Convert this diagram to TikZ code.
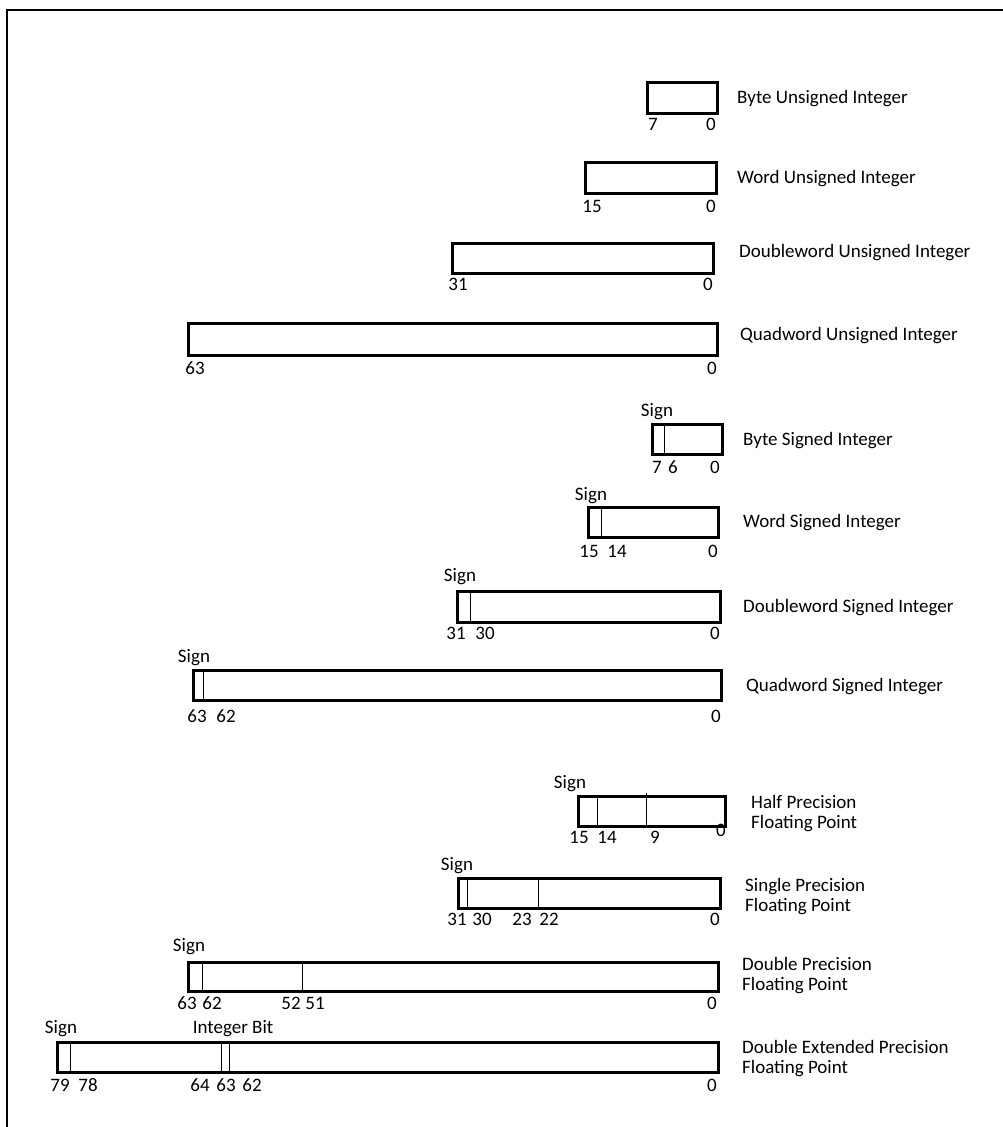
\documentclass[tikz,border=0pt]{standalone}
\usepackage{fontspec}
\setmainfont{Carlito}
\begin{document}
\begin{tikzpicture}[x=1pt,y=-1pt,
  box/.style={line width=3pt},
  sep/.style={line width=1pt},
  frame/.style={line width=2.5pt},
  num/.style={anchor=base,inner sep=0pt,font=\fontsize{19}{19}\selectfont},
  ttl/.style={anchor=base west,inner sep=0pt,font=\fontsize{19}{19}\selectfont},
  ttl2/.style={anchor=west,inner sep=0pt,align=left,font=\fontsize{19}{20}\selectfont}]
\useasboundingbox (0,0) rectangle (1003,1127);
\fill[white] (0,0) rectangle (1003,1127);
\draw[frame] (7,1130) -- (7,10) -- (1006,10);

% Byte Unsigned
\draw[box] (647,82) rectangle (717,113);
\node[num] (bu7) at (653,130) {7};
\node[num] (bu0) at (711,130) {0};
\node[ttl] (but) at (737,103) {Byte Unsigned Integer};
% Word Unsigned
\draw[box] (585,162) rectangle (716,193);
\node[num] (wu15) at (592,212) {15};
\node[num] (wu0) at (711,212) {0};
\node[ttl] (wut) at (737,183) {Word Unsigned Integer};
% Doubleword Unsigned
\draw[box] (452,243) rectangle (713,273);
\node[num] (du31) at (458,290) {31};
\node[num] (du0) at (708,290) {0};
\node[ttl] (dut) at (739,257) {Doubleword Unsigned Integer};
% Quadword Unsigned
\draw[box] (188,323) rectangle (717,355);
\node[num] (qu63) at (195,374) {63};
\node[num] (qu0) at (712,374) {0};
\node[ttl] (qut) at (740,340) {Quadword Unsigned Integer};

% Byte Signed
\draw[box] (652,424) rectangle (722,454);
\draw[sep] (664,424) -- (664,454);
\node[num] (bss) at (657,416) {Sign};
\node[num] (bs7) at (657,473) {7};
\node[num] (bs6) at (673,473) {6};
\node[num] (bs0) at (715,473) {0};
\node[ttl] (bst) at (743,445) {Byte Signed Integer};
% Word Signed
\draw[box] (588,507) rectangle (718,537);
\draw[sep] (601,507) -- (601,537);
\node[num] (wss) at (591,500) {Sign};
\node[num] (ws15) at (589,557) {15};
\node[num] (ws14) at (617,557) {14};
\node[num] (ws0) at (713,557) {0};
\node[ttl] (wst) at (743,527) {Word Signed Integer};
% Doubleword Signed
\draw[box] (457,591) rectangle (720,622);
\draw[sep] (470,591) -- (470,622);
\node[num] (dss) at (460,581) {Sign};
\node[num] (ds31) at (456,639) {31};
\node[num] (ds30) at (485,639) {30};
\node[num] (ds0) at (715,639) {0};
\node[ttl] (dst) at (743,612) {Doubleword Signed Integer};
% Quadword Signed
\draw[box] (193,670) rectangle (721,700);
\draw[sep] (203,670) -- (203,700);
\node[num] (qss) at (194,662) {Sign};
\node[num] (qs63) at (197,722) {63};
\node[num] (qs62) at (226,722) {62};
\node[num] (qs0) at (716,722) {0};
\node[ttl] (qst) at (746,691) {Quadword Signed Integer};

% Half precision
\draw[box] (578,796) rectangle (725,826);
\draw[sep] (597,796) -- (597,826);
\draw[sep] (646,793) -- (646,826);
\node[num] (hps) at (570,788) {Sign};
\node[num] (hp15) at (579,843) {15};
\node[num] (hp14) at (607,843) {14};
\node[num] (hp9) at (655,843) {9};
\node[num] (hp0) at (721,836) {0};
\node[ttl2] (hpt) at (751,814) {Half Precision\\Floating Point};
% Single precision
\draw[box] (458,878) rectangle (720,908);
\draw[sep] (467,878) -- (467,908);
\draw[sep] (538,878) -- (538,908);
\node[num] (sps) at (457,870) {Sign};
\node[num] (sp31) at (457,925) {31};
\node[num] (sp30) at (482,925) {30};
\node[num] (sp23) at (522,925) {23};
\node[num] (sp22) at (549,925) {22};
\node[num] (sp0) at (715,925) {0};
\node[ttl2] (spt) at (745,897) {Single Precision\\Floating Point};
% Double precision
\draw[box] (188,962) rectangle (718,991);
\draw[sep] (202,962) -- (202,991);
\draw[sep] (302,962) -- (302,991);
\node[num] (dps) at (189,951) {Sign};
\node[num] (dp63) at (187,1009) {63};
\node[num] (dp62) at (212,1009) {62};
\node[num] (dp52) at (291,1009) {52};
\node[num] (dp51) at (315,1009) {51};
\node[num] (dp0) at (712,1009) {0};
\node[ttl2] (dpt) at (742,976) {Double Precision\\Floating Point};
% Double extended precision
\draw[box] (57,1042) rectangle (718,1072);
\draw[sep] (70,1042) -- (70,1072);
\draw[sep] (221,1042) -- (221,1072);
\draw[sep] (229,1042) -- (229,1072);
\node[num] (eps) at (61,1033) {Sign};
\node[num] (epib) at (233,1033) {Integer Bit};
\node[num] (ep79) at (60,1091) {79};
\node[num] (ep78) at (88,1091) {78};
\node[num] (ep64) at (200,1091) {64};
\node[num] (ep63) at (226,1091) {63};
\node[num] (ep62) at (252,1091) {62};
\node[num] (ep0) at (712,1091) {0};
\node[ttl2] (ept) at (742,1059) {Double Extended Precision\\Floating Point};
\end{tikzpicture}
\end{document}
